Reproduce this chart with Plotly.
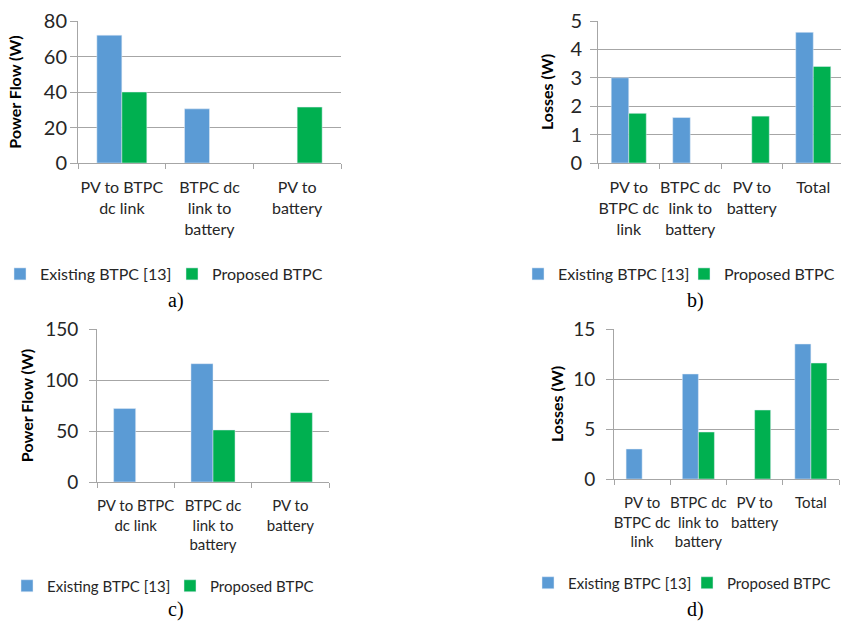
import plotly.graph_objects as go

# ---------------- data ----------------
cats_a = ["PV to BTPC<br>dc link", "BTPC dc<br>link to<br>battery", "PV to<br>battery"]
existing_a = [72, 30.5, None]
proposed_a = [40, None, 31.5]

cats_b = ["PV to<br>BTPC dc<br>link", "BTPC dc<br>link to<br>battery", "PV to<br>battery", "Total"]
existing_b = [3.0, 1.6, None, 4.6]
proposed_b = [1.75, None, 1.65, 3.4]

cats_c = ["PV to BTPC<br>dc link", "BTPC dc<br>link to<br>battery", "PV to<br>battery"]
existing_c = [72, 116, None]
proposed_c = [None, 51, 68]

cats_d = ["PV to<br>BTPC dc<br>link", "BTPC dc<br>link to<br>battery", "PV to<br>battery", "Total"]
existing_d = [3.0, 10.5, None, 13.5]
proposed_d = [None, 4.7, 6.9, 11.6]

series_names = ["Existing BTPC [13]", "Proposed BTPC"]
captions = ["a)", "b)", "c)", "d)"]
ytitles = ["Power Flow (W)", "Losses (W)", "Power Flow (W)", "Losses (W)"]

# ---------------- style ----------------
W, H = 841, 622
BLUE = "#5B9BD5"
GREEN = "#00B050"
GRID = "#A6A6A6"
TXT = "#262626"
FONT = "Lato"

def px_x(v):
    return v / W

def px_y(v):
    return 1 - v / H

fig = go.Figure()

panels = [
    # cats, existing, proposed, x-domain px, y-domain px(top,bottom), yrange, dtick, xrange, tickfont, catfont
    (cats_a, existing_a, proposed_a, (78, 341), (21, 163), (0, 80), 20, None, 20, 16),
    (cats_b, existing_b, proposed_b, (598, 841), (21, 163), (0, 5), 1, (-0.5, 3.451), 20, 16),
    (cats_c, existing_c, proposed_c, (97, 329), (329, 482), (0, 150), 50, None, 19, 15),
    (cats_d, existing_d, proposed_d, (614, 839), (329, 479), (0, 15), 5, None, 19, 15),
]

# legend: (text-left px, centre-y px, entry width)
legend_pos = [(41, 274, 127), (560, 274, 121), (49, 586, 118), (570, 583, 114)]
caption_pos = [(176, 301), (695, 301), (176, 609), (695, 609)]
title_standoff = [18, 12, 7, 5]
ylabel_standoff = [-1, 4, 7, 7]

for i, (cats, ex, pr, xd, yd, yr, dt, xr, tfs, cfs) in enumerate(panels):
    n = "" if i == 0 else str(i + 1)
    xa = "x" + n
    ya = "y" + n
    leg = "legend" + n
    fig.add_trace(go.Bar(x=cats, y=ex, name=series_names[0], marker_color=BLUE,
                         xaxis=xa, yaxis=ya, legend=leg))
    fig.add_trace(go.Bar(x=cats, y=pr, name=series_names[1], marker_color=GREEN,
                         xaxis=xa, yaxis=ya, legend=leg))
    xkey = "xaxis" + n
    ykey = "yaxis" + n
    xaxis = dict(domain=[px_x(xd[0]), px_x(xd[1])], anchor=ya, type="category",
                 showline=True, linecolor=GRID, linewidth=1,
                 ticks="outside", tickson="boundaries", ticklen=5, tickcolor=GRID,
                 tickangle=0, automargin=False, ticklabelstandoff=10,
                 tickfont=dict(family=FONT, size=cfs, color=TXT),
                 showgrid=False, zeroline=False, fixedrange=True)
    if xr is not None:
        xaxis["range"] = list(xr)
    yaxis = dict(domain=[px_y(yd[1]), px_y(yd[0])], anchor=xa, range=list(yr), dtick=dt,
                 showline=True, linecolor=GRID, linewidth=1,
                 ticks="outside", ticklen=7, tickcolor=GRID, automargin=False,
                 ticklabelstandoff=ylabel_standoff[i],
                 showgrid=True, gridcolor=GRID, gridwidth=1, zeroline=False,
                 tickfont=dict(family=FONT, size=tfs, color=TXT),
                 title=dict(text="<b>" + ytitles[i] + "</b>",
                            font=dict(family=FONT, size=16, color="#000000"),
                            standoff=title_standoff[i]))
    fig.update_layout(**{xkey: xaxis, ykey: yaxis})

    lx, ly, ew = legend_pos[i]
    fig.update_layout(**{leg: dict(x=max(0, px_x(lx - 42)), y=px_y(ly), xanchor="left", yanchor="middle",
                                   orientation="h", entrywidth=ew, entrywidthmode="pixels",
                                   font=dict(family=FONT, size=16 if i < 2 else 15, color=TXT),
                                   bgcolor="rgba(0,0,0,0)")})

    cx, cy = caption_pos[i]
    fig.add_annotation(x=px_x(cx), y=px_y(cy), xref="paper", yref="paper",
                       text=captions[i], showarrow=False,
                       font=dict(family="Liberation Serif", size=20, color="#000000"),
                       xanchor="center", yanchor="middle")

fig.update_layout(width=W, height=H, margin=dict(l=0, r=0, t=0, b=0, autoexpand=False),
                  paper_bgcolor="white", plot_bgcolor="white",
                  barmode="group", bargap=0.43, bargroupgap=0,
                  showlegend=True)

fig.write_html("out.html", config={"displayModeBar": False},
               post_script="document.body.style.margin='0';document.body.style.overflow='hidden';")
